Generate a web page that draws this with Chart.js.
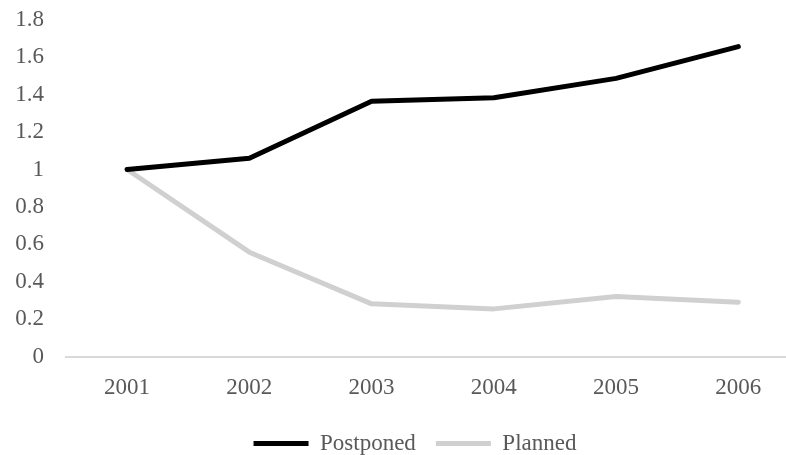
<!DOCTYPE html>
<html>
<head>
<meta charset="utf-8">
<script src="https://cdn.jsdelivr.net/npm/chart.js@4"></script>
<style>
  html, body { margin: 0; padding: 0; background: #ffffff; }
  #wrap { width: 786px; height: 455px; }
</style>
</head>
<body>
<div id="wrap"><canvas id="c" width="786" height="455"></canvas></div>
<script>
// Index values relative to 2001
const years = [2001, 2002, 2003, 2004, 2005, 2006];
const postponed = [1.0, 1.06, 1.365, 1.383, 1.487, 1.657];
const planned = [1.0, 0.558, 0.282, 0.255, 0.321, 0.291];
const yTicks = [0, 0.2, 0.4, 0.6, 0.8, 1, 1.2, 1.4, 1.6, 1.8];

const FONT = { family: '"Liberation Serif", "Times New Roman", serif', size: 23 };
const TEXT = '#595959';

const toPoints = vals => years.map((yr, i) => ({ x: yr, y: vals[i] }));

// Move the legend a little right and down, under the plot
const legendShift = {
  id: 'legendShift',
  afterLayout(chart) {
    const lg = chart.legend;
    if (lg) {
      lg.left += 22; lg.right += 22;
      lg.top += 10; lg.bottom += 10;
    }
  }
};

new Chart(document.getElementById('c'), {
  type: 'line',
  data: {
    datasets: [
      {
        label: 'Postponed',
        data: toPoints(postponed),
        borderColor: '#000000',
        backgroundColor: '#000000',
        borderWidth: 5,
        borderCapStyle: 'round',
        borderJoinStyle: 'round',
        pointRadius: 0,
        tension: 0
      },
      {
        label: 'Planned',
        data: toPoints(planned),
        borderColor: '#d0d0d0',
        backgroundColor: '#d0d0d0',
        borderWidth: 5,
        borderCapStyle: 'round',
        borderJoinStyle: 'round',
        pointRadius: 0,
        tension: 0
      }
    ]
  },
  options: {
    responsive: false,
    animation: false,
    devicePixelRatio: 1,
    layout: { autoPadding: false, padding: { left: 0, right: 0, top: 0, bottom: 0 } },
    plugins: {
      tooltip: { enabled: false },
      legend: {
        position: 'bottom',
        labels: {
          font: FONT,
          color: TEXT,
          usePointStyle: true,
          pointStyle: 'line',
          pointStyleWidth: 55,
          padding: 20
        }
      }
    },
    scales: {
      x: {
        type: 'linear',
        min: 2000.5,
        max: 2006.39,
        afterBuildTicks(scale) { scale.ticks = years.map(v => ({ value: v })); },
        afterFit(scale) { scale.height = 45.4; },
        grid: { display: true, drawOnChartArea: false, drawTicks: false },
        border: { display: true, color: '#d9d9d9', width: 2 },
        ticks: { font: FONT, color: TEXT, padding: 18, maxRotation: 0, callback: v => String(v) }
      },
      y: {
        min: 0,
        max: 1.8,
        afterBuildTicks(scale) { scale.ticks = yTicks.map(v => ({ value: v })); },
        afterFit(scale) { scale.width = 66; },
        grid: { display: false, drawTicks: true, tickLength: 16, tickColor: 'rgba(0,0,0,0)' },
        border: { display: false },
        ticks: { font: FONT, color: TEXT, padding: 6, callback: v => String(Math.round(v * 10) / 10) }
      }
    }
  },
  plugins: [legendShift]
});
</script>
</body>
</html>
